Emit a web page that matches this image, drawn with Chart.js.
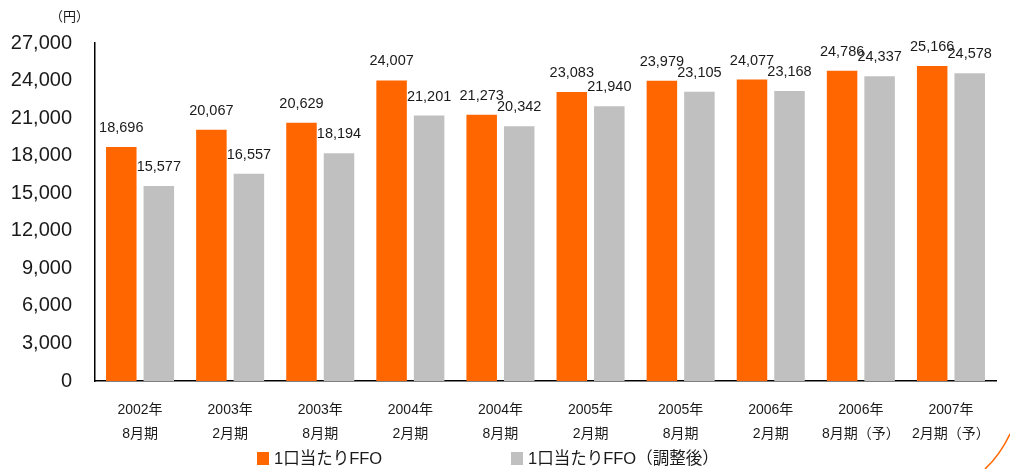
<!DOCTYPE html>
<html>
<head>
<meta charset="utf-8">
<script src="https://cdn.jsdelivr.net/npm/chart.js@4"></script>
<style>
  html, body { margin: 0; padding: 0; background: #fff; }
  #wrap { position: relative; width: 1010px; height: 469px; }
</style>
</head>
<body>
<div id="wrap"><canvas id="c" width="1010" height="469"></canvas></div>
<script>
// periods (two lines each)
const periods = [
  ["2002年", "8月期"], ["2003年", "2月期"], ["2003年", "8月期"], ["2004年", "2月期"],
  ["2004年", "8月期"], ["2005年", "2月期"], ["2005年", "8月期"], ["2006年", "2月期"],
  ["2006年", "8月期（予）"], ["2007年", "2月期（予）"]
];
const ffo = [18696, 20067, 20629, 24007, 21273, 23083, 23979, 24077, 24786, 25166];
const ffoAdjusted = [15577, 16557, 18194, 21201, 20342, 21940, 23105, 23168, 24337, 24578];
const seriesNames = ["1口当たりFFO", "1口当たりFFO（調整後）"];
const seriesColors = ["#ff6600", "#c0c0c0"];
const yMax = 27000, yStep = 3000;

const FONT = "'Liberation Sans', Arial, 'Noto Sans CJK JP', sans-serif";

// numbers above every bar
const valueLabels = {
  id: "valueLabels",
  afterDatasetsDraw(chart) {
    const ctx = chart.ctx;
    ctx.save();
    ctx.font = "14.5px " + FONT;
    ctx.fillStyle = "#1a1a1a";
    ctx.textAlign = "center";
    ctx.textBaseline = "middle";
    chart.data.datasets.forEach((ds, i) => {
      chart.getDatasetMeta(i).data.forEach((bar, j) => {
        ctx.fillText(ds.data[j].toLocaleString("en-US"), bar.x, bar.y - 19);
      });
    });
    ctx.restore();
  }
};

// unit, legend and the little orange swoosh in the corner
const extras = {
  id: "extras",
  afterDraw(chart) {
    const ctx = chart.ctx;
    ctx.save();
    ctx.fillStyle = "#1a1a1a";
    ctx.font = "13px " + FONT;
    ctx.textBaseline = "middle";
    ctx.textAlign = "left";
    ctx.fillText("（円）", 50, 17);

    // legend
    const legendX = [257, 511];
    ctx.font = "16.5px " + FONT;
    seriesNames.forEach((name, i) => {
      ctx.fillStyle = seriesColors[i];
      ctx.fillRect(legendX[i], 452, 12, 13);
      ctx.fillStyle = "#1a1a1a";
      ctx.fillText(name, legendX[i] + 17, 459);
    });

    ctx.strokeStyle = "#ff6600";
    ctx.lineWidth = 1.5;
    ctx.beginPath();
    ctx.moveTo(1010, 434);
    ctx.quadraticCurveTo(1000, 455, 985, 469);
    ctx.stroke();
    ctx.restore();
  }
};

new Chart(document.getElementById("c"), {
  type: "bar",
  data: {
    labels: periods,
    datasets: seriesNames.map((name, i) => ({
      label: name,
      data: i === 0 ? ffo : ffoAdjusted,
      backgroundColor: seriesColors[i],
      categoryPercentage: 0.833,
      barPercentage: 0.813
    }))
  },
  options: {
    responsive: false,
    animation: false,
    layout: { padding: { top: 43, right: 14, left: 0, bottom: 0 } },
    plugins: { legend: { display: false }, tooltip: { enabled: false } },
    scales: {
      x: {
        grid: { display: false },
        border: { display: true, color: "#000", width: 1.5 },
        ticks: {
          color: "#1a1a1a",
          font: { family: FONT, size: 14, lineHeight: 1.72 },
          padding: 9,
          maxRotation: 0,
          autoSkip: false
        },
        afterFit(scale) { scale.height = 88; }
      },
      y: {
        min: 0,
        max: yMax,
        grid: { display: false },
        border: { display: true, color: "#000", width: 1.5 },
        ticks: {
          stepSize: yStep,
          color: "#1a1a1a",
          padding: 15,
          font: { family: FONT, size: 20 },
          callback: v => v.toLocaleString("en-US")
        },
        afterFit(scale) { scale.width = 95; }
      }
    }
  },
  plugins: [valueLabels, extras]
});
</script>
</body>
</html>
